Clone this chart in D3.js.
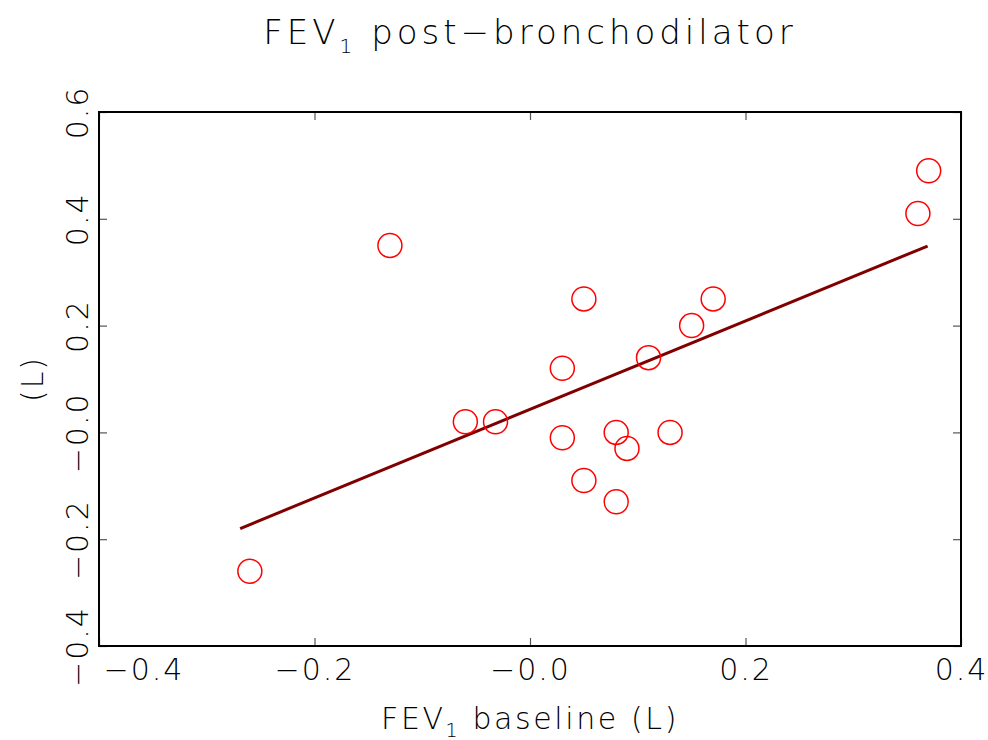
<!DOCTYPE html>
<html>
<head>
<meta charset="utf-8">
<script src="https://cdn.jsdelivr.net/npm/d3@7"></script>
<style>
  html, body { margin: 0; padding: 0; background: #fff; }
  text { font-family: "DejaVu Sans", "Liberation Sans", sans-serif; font-weight: 200; fill: #000; }
</style>
</head>
<body>
<div id="chart"></div>
<script>
// FEV1 change: baseline vs post-bronchodilator (L)
const baselineVals = [-0.26, -0.13, -0.06, -0.032, 0.03, 0.03, 0.05, 0.05, 0.08, 0.08, 0.09, 0.11, 0.13, 0.15, 0.17, 0.36, 0.37];
const postVals     = [-0.26,  0.35,  0.02,  0.02,  0.12, -0.01, 0.25, -0.09, 0.0, -0.13, -0.03, 0.14, 0.0, 0.20, 0.25, 0.41, 0.49];

// regression line end points
const fitX = [-0.269, 0.369];
const fitY = [-0.18, 0.349];

const xTicks = [-0.4, -0.2, 0.0, 0.2, 0.4];
const yTicks = [-0.4, -0.2, 0.0, 0.2, 0.4, 0.6];

const width = 988, height = 740;
const margin = { top: 112, right: 27, bottom: 94, left: 99 };

const svg = d3.select("#chart").append("svg")
  .attr("width", width)
  .attr("height", height);

const x = d3.scaleLinear().domain([-0.4, 0.4]).range([margin.left, width - margin.right]);
const y = d3.scaleLinear().domain([-0.4, 0.6]).range([height - margin.bottom, margin.top]);

const fmt = d => (d <= 0 ? "\u2212" : "") + Math.abs(d).toFixed(1);

// axes with inward ticks
const gx = svg.append("g")
  .attr("transform", `translate(0,${y.range()[0]})`)
  .call(d3.axisBottom(x).tickValues(xTicks).tickSize(-8).tickPadding(12).tickFormat(fmt));
svg.append("g")
  .attr("transform", `translate(0,${y.range()[1]})`)
  .call(d3.axisTop(x).tickValues(xTicks).tickSize(-8).tickFormat(""));
const gy = svg.append("g")
  .attr("transform", `translate(${x.range()[0]},0)`)
  .call(d3.axisLeft(y).tickValues(yTicks).tickSize(-8).tickFormat(fmt));
svg.append("g")
  .attr("transform", `translate(${x.range()[1]},0)`)
  .call(d3.axisRight(y).tickValues(yTicks).tickSize(-8).tickFormat(""));

svg.selectAll(".domain").remove();
svg.selectAll(".tick line").attr("stroke", "#555").attr("stroke-width", 1.2);

gx.selectAll(".tick text")
  .attr("font-size", 30)
  .attr("letter-spacing", 2)
  .attr("dy", "0.72em");
// first label is pushed right of the corner
gx.selectAll(".tick text").filter((d, i) => i === 0)
  .attr("text-anchor", "start")
  .attr("x", 4);

gy.selectAll(".tick text")
  .attr("font-size", 30)
  .attr("letter-spacing", 2)
  .attr("text-anchor", "middle")
  .attr("transform", "rotate(-90)")
  .attr("x", 0)
  .attr("y", -11)
  .attr("dy", 0);

// frame
svg.append("rect")
  .attr("x", x.range()[0])
  .attr("y", y.range()[1])
  .attr("width", x.range()[1] - x.range()[0])
  .attr("height", y.range()[0] - y.range()[1])
  .attr("fill", "none")
  .attr("stroke", "#000")
  .attr("stroke-width", 2);

// fit line
svg.append("line")
  .attr("x1", x(fitX[0])).attr("y1", y(fitY[0]))
  .attr("x2", x(fitX[1])).attr("y2", y(fitY[1]))
  .attr("stroke", "#800000")
  .attr("stroke-width", 3);

// points
const pts = baselineVals.map((v, i) => ({ x: v, y: postVals[i] }));
svg.append("g").selectAll("circle")
  .data(pts)
  .join("circle")
  .attr("cx", d => x(d.x))
  .attr("cy", d => y(d.y))
  .attr("r", 12)
  .attr("fill", "none")
  .attr("stroke", "#ff0000")
  .attr("stroke-width", 1.5);

// title
const title = svg.append("text")
  .attr("x", 530)
  .attr("y", 44)
  .attr("text-anchor", "middle")
  .attr("font-size", 34)
  .attr("letter-spacing", 4);
title.append("tspan").text("FEV");
title.append("tspan").attr("font-size", 20).attr("dy", 9).text("1");
title.append("tspan").attr("dy", -9).text(" post\u2212bronchodilator");

// x label
const xl = svg.append("text")
  .attr("x", 530)
  .attr("y", 729)
  .attr("text-anchor", "middle")
  .attr("font-size", 30)
  .attr("letter-spacing", 2.6);
xl.append("tspan").text("FEV");
xl.append("tspan").attr("font-size", 19).attr("dy", 8).text("1");
xl.append("tspan").attr("dy", -8).text(" baseline (L)");

// y label
svg.append("text")
  .attr("transform", `translate(43,${y(0.1)}) rotate(-90)`)
  .attr("text-anchor", "middle")
  .attr("font-size", 30)
  .attr("letter-spacing", 2)
  .text("(L)");
</script>
</body>
</html>
